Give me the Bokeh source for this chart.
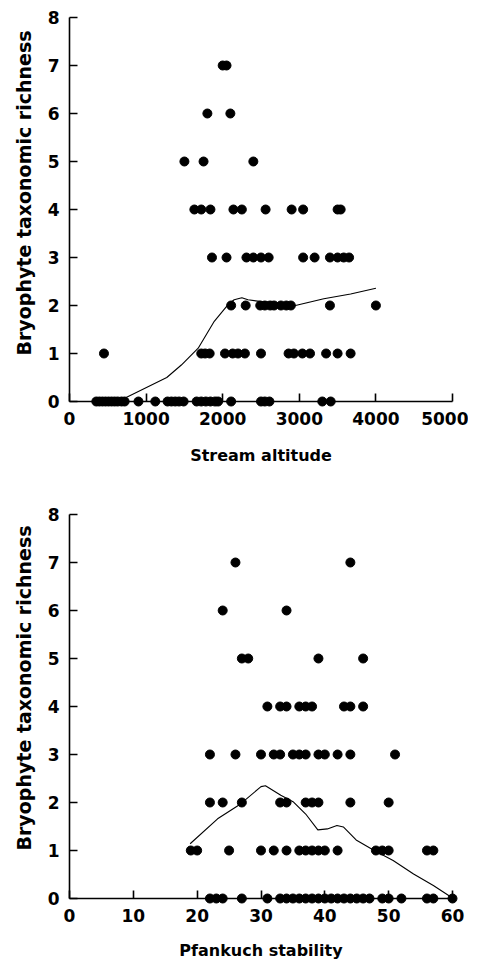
from bokeh.plotting import figure
from bokeh.layouts import column
from bokeh.models import Range1d, FixedTicker, Title
from bokeh.embed import file_html
from bokeh.resources import INLINE

# ---- Data: stream altitude vs bryophyte richness (points grouped by richness) ----
alt_rich = [0, 1, 2, 3, 4, 5, 6, 7]
alt_r0 = [350, 390, 430, 470, 510, 550, 590, 630, 680, 720, 900, 1120, 1280, 1330,
          1380, 1430, 1490, 1660, 1720, 1780, 1840, 1900, 1940, 2110, 2500, 2550,
          2610, 3300, 3410]
alt_r1 = [450, 1720, 1770, 1830, 2030, 2130, 2200, 2290, 2500, 2860, 2930, 3040,
          3140, 3350, 3500, 3670]
alt_r2 = [2110, 2300, 2490, 2550, 2620, 2670, 2760, 2830, 2890, 3400, 4000]
alt_r3 = [1860, 2050, 2310, 2400, 2500, 2600, 3050, 3200, 3400, 3500, 3580, 3650]
alt_r4 = [1630, 1720, 1840, 2140, 2250, 2560, 2900, 3050, 3500, 3540]
alt_r5 = [1500, 1750, 2400]
alt_r6 = [1800, 2100]
alt_r7 = [2000, 2050]
alt_smooth_x = [700, 1270, 1460, 1680, 1890, 2070, 2150, 2250, 2330, 2500, 2720,
                2950, 3320, 3670, 4000]
alt_smooth_y = [0.05, 0.5, 0.76, 1.11, 1.67, 2.02, 2.12, 2.16, 2.12, 2.08, 2.06,
                2.0, 2.14, 2.24, 2.36]

# ---- Data: Pfankuch stability vs bryophyte richness ----
pf_r0 = [22, 23, 24, 27, 31, 33, 34, 35, 36, 37, 38, 39, 40, 41, 42, 43, 44, 45,
         46, 47, 49, 50, 52, 56, 57, 60]
pf_r1 = [19, 20, 25, 30, 32, 34, 36, 37, 38, 39, 40, 42, 48, 49, 50, 56, 57]
pf_r2 = [22, 24, 27, 33, 34, 37, 38, 39, 44, 50]
pf_r3 = [22, 26, 30, 32, 33, 35, 36, 37, 39, 40, 42, 44, 51]
pf_r4 = [31, 33, 34, 36, 37, 38, 43, 44, 46]
pf_r5 = [27, 28, 39, 46]
pf_r6 = [24, 34]
pf_r7 = [26, 44]
pf_smooth_x = [18.9, 23.2, 26.8, 30.0, 30.7, 33.1, 35.1, 37.0, 38.9, 40.4, 41.9,
               42.9, 44.9, 47.6, 50.7, 53.9, 57.0, 60.0]
pf_smooth_y = [1.14, 1.66, 1.97, 2.33, 2.35, 2.15, 2.01, 1.76, 1.43, 1.45, 1.52,
               1.49, 1.22, 1.01, 0.79, 0.51, 0.27, 0.01]

y_ticks = [0, 1, 2, 3, 4, 5, 6, 7, 8]
alt_ticks = [0, 1000, 2000, 3000, 4000, 5000]
pf_ticks = [0, 10, 20, 30, 40, 50, 60]
y_title = "Bryophyte taxonomic richness"

FONT = "DejaVu Sans"


def flatten(groups):
    xs, ys = [], []
    for r, g in zip(alt_rich, groups):
        xs += g
        ys += [r] * len(g)
    return xs, ys


def make_fig(xs, ys, sx, sy, xmax, xticks, xlabel, height, top, bottom,
             lab_standoff, title_standoff, ytitle_offset):
    p = figure(width=468, height=height, output_backend="svg",
               toolbar_location=None, x_range=Range1d(0, xmax),
               y_range=Range1d(0, 8), min_border_left=68, min_border_right=16,
               min_border_top=top, min_border_bottom=bottom)
    p.outline_line_color = None
    p.grid.visible = False
    p.background_fill_color = "white"
    p.border_fill_color = "white"
    p.line(sx, sy, line_color="black", line_width=1.1, level="overlay")
    p.scatter(xs, ys, size=9, fill_color="black", line_color="black",
              level="overlay")
    p.xaxis.ticker = FixedTicker(ticks=xticks)
    p.yaxis.ticker = FixedTicker(ticks=y_ticks)
    for ax in (p.xaxis, p.yaxis):
        ax.axis_line_color = "black"
        ax.axis_line_width = 1.6
        ax.major_tick_line_color = "black"
        ax.major_tick_line_width = 1.6
        ax.major_tick_in = 8
        ax.major_tick_out = 0
        ax.minor_tick_line_color = None
        ax.major_label_text_font = FONT
        ax.major_label_text_font_style = "bold"
        ax.major_label_text_font_size = "17px"
        ax.major_label_text_color = "black"
        ax.axis_label_text_font = FONT
        ax.axis_label_text_font_style = "bold"
        ax.axis_label_text_color = "black"
    p.xaxis.major_label_standoff = lab_standoff
    p.xaxis.axis_label = xlabel
    p.xaxis.axis_label_text_font_size = "16px"
    p.xaxis.axis_label_standoff = title_standoff
    p.yaxis.major_label_standoff = 10
    yt = Title(text=y_title, align="left", offset=ytitle_offset, standoff=20,
               text_font=FONT, text_font_style="bold", text_font_size="19px",
               text_color="black")
    p.add_layout(yt, "left")
    return p


ax_, ay_ = flatten([alt_r0, alt_r1, alt_r2, alt_r3, alt_r4, alt_r5, alt_r6, alt_r7])
px_, py_ = flatten([pf_r0, pf_r1, pf_r2, pf_r3, pf_r4, pf_r5, pf_r6, pf_r7])

p1 = make_fig(ax_, ay_, alt_smooth_x, alt_smooth_y, 5000, alt_ticks,
              "Stream altitude", 498, 17, 97, 10, 18, 46)
p2 = make_fig(px_, py_, pf_smooth_x, pf_smooth_y, 60, pf_ticks,
              "Pfankuch stability", 465, 16, 65, 10, 16, 48)

layout = column(p1, p2, spacing=0)
open("out.html", "w").write(file_html(layout, INLINE))
